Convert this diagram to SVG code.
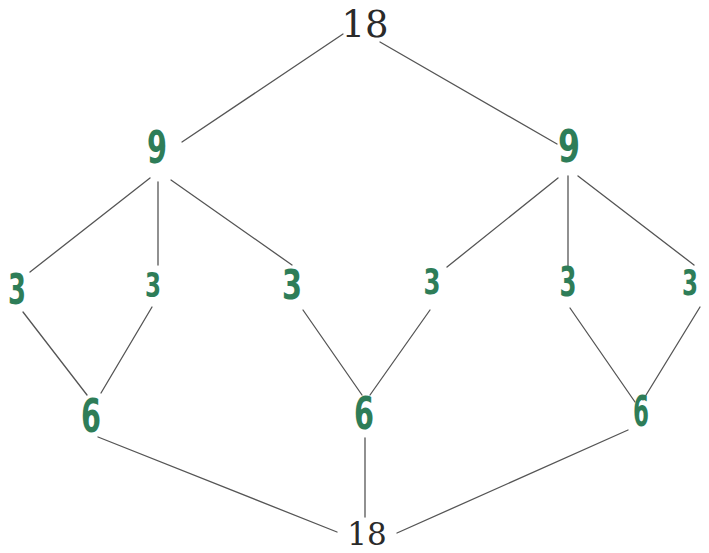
<svg xmlns="http://www.w3.org/2000/svg" width="709" height="553" viewBox="0 0 709 553">
<style>
.e{stroke:#555;stroke-width:1.3;fill:none;stroke-linecap:round}
.h{font-family:"DejaVu Sans","Liberation Sans",sans-serif;font-weight:bold;fill:#2e7d58;text-anchor:middle}
.n{font-family:"DejaVu Serif","Liberation Serif",serif;fill:#2a2a2a;text-anchor:middle}
</style>
<rect width="709" height="553" fill="#ffffff"/>
<g id="connectors">
<line class="e" x1="343" y1="34" x2="182" y2="142"/>
<line class="e" x1="380" y1="42" x2="557" y2="144"/>
<line class="e" x1="150" y1="178" x2="30" y2="272"/>
<line class="e" x1="158" y1="182" x2="158" y2="265"/>
<line class="e" x1="171" y1="180" x2="292" y2="265"/>
<line class="e" x1="558" y1="178" x2="447" y2="267"/>
<line class="e" x1="568" y1="176" x2="568" y2="267" stroke-width="2"/>
<line class="e" x1="578" y1="176" x2="694" y2="265"/>
<line class="e" x1="23" y1="312" x2="87" y2="395"/>
<line class="e" x1="152" y1="307" x2="101" y2="393"/>
<line class="e" x1="303" y1="310" x2="362" y2="395"/>
<line class="e" x1="430" y1="310" x2="370" y2="395"/>
<line class="e" x1="570" y1="308" x2="635" y2="402"/>
<line class="e" x1="700" y1="307" x2="643" y2="400"/>
<line class="e" x1="98" y1="437" x2="337" y2="532"/>
<line class="e" x1="365" y1="438" x2="365" y2="517"/>
<line class="e" x1="628" y1="430" x2="397" y2="533"/>
</g>
<g id="top18"><text class="n" x="365" y="37" font-size="37">18</text></g>
<g id="n9a"><text class="h" x="157" y="163" font-size="44" textLength="20" lengthAdjust="spacingAndGlyphs">9</text></g>
<g id="n9b"><text class="h" x="569" y="162" font-size="44" textLength="22" lengthAdjust="spacingAndGlyphs">9</text></g>
<g id="n3a"><text class="h" x="17" y="304" font-size="42" textLength="18" lengthAdjust="spacingAndGlyphs">3</text></g>
<g id="n3b"><text class="h" x="153" y="297" font-size="34" textLength="16" lengthAdjust="spacingAndGlyphs">3</text></g>
<g id="n3c"><text class="h" x="292" y="299" font-size="40" textLength="20" lengthAdjust="spacingAndGlyphs">3</text></g>
<g id="n3d"><text class="h" x="432" y="294" font-size="36" textLength="17" lengthAdjust="spacingAndGlyphs">3</text></g>
<g id="n3e"><text class="h" x="568" y="296" font-size="40" textLength="17" lengthAdjust="spacingAndGlyphs">3</text></g>
<g id="n3f"><text class="h" x="690" y="295" font-size="36" textLength="16" lengthAdjust="spacingAndGlyphs">3</text></g>
<g id="n6a"><text class="h" x="91" y="432" font-size="46" textLength="20" lengthAdjust="spacingAndGlyphs">6</text></g>
<g id="n6b"><text class="h" x="364" y="429" font-size="44" textLength="20" lengthAdjust="spacingAndGlyphs">6</text></g>
<g id="n6c"><text class="h" x="641" y="426" font-size="42" textLength="16" lengthAdjust="spacingAndGlyphs">6</text></g>
<g id="bottom18"><text class="n" x="367" y="545" font-size="31">18</text></g>
</svg>
